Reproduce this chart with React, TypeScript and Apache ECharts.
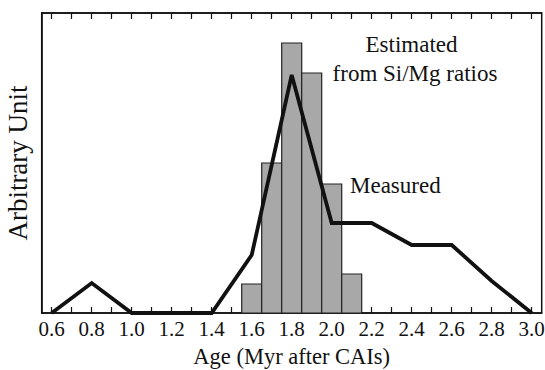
import React, { useEffect, useRef } from "react";
import * as echarts from "echarts";

// Histogram: "Estimated from Si/Mg ratios" (bin centres, heights in arbitrary units)
const binCenters = [1.6, 1.7, 1.8, 1.9, 2.0, 2.1];
const binHeights = [29, 150, 270, 240, 129, 39];
const binWidth = 0.1;

// Line: "Measured"
const measuredAges = [0.6, 0.8, 1.0, 1.2, 1.4, 1.6, 1.8, 2.0, 2.2, 2.4, 2.6, 2.8, 3.0];
const measuredValues = [0, 30, 0, 0, 0, 58, 238, 90, 90, 68, 68, 32, 0];

// Axis ticks
const tickValues = [
  0.6, 0.7, 0.8, 0.9, 1.0, 1.1, 1.2, 1.3, 1.4, 1.5, 1.6, 1.7, 1.8, 1.9, 2.0,
  2.1, 2.2, 2.3, 2.4, 2.5, 2.6, 2.7, 2.8, 2.9, 3.0,
];
const labelValues = [0.6, 0.8, 1.0, 1.2, 1.4, 1.6, 1.8, 2.0, 2.2, 2.4, 2.6, 2.8, 3.0];

const FONT = "Liberation Serif, serif";

export default function App() {
  const ref = useRef<HTMLDivElement>(null);

  useEffect(() => {
    if (!ref.current) return;
    const chart = echarts.init(ref.current, undefined, { renderer: "svg" });

    const xCommon = {
      type: "value" as const,
      min: 0.55,
      max: 3.05,
      splitLine: { show: false },
      axisLine: { show: true, lineStyle: { color: "#111", width: 1.5 } },
    };

    chart.setOption({
      animation: false,
      backgroundColor: "#ffffff",
      textStyle: { fontFamily: FONT },
      grid: {
        left: 41.7,
        right: 3.3,
        top: 13,
        bottom: 57,
        containLabel: false,
        outerBoundsMode: "none",
        show: true,
        borderColor: "#111",
        borderWidth: 1.5,
        backgroundColor: "transparent",
      },
      xAxis: [
        {
          ...xCommon,
          position: "bottom",
          name: "Age (Myr after CAIs)",
          nameLocation: "middle",
          nameGap: 32,
          nameMoveOverlap: false,
          nameTextStyle: { fontFamily: FONT, fontSize: 22.5, color: "#111" },
          axisTick: {
            show: true,
            inside: true,
            length: 6,
            customValues: tickValues,
            lineStyle: { color: "#111", width: 1.2 },
          },
          axisLabel: {
            show: true,
            customValues: labelValues,
            formatter: (v: number) => v.toFixed(1),
            fontFamily: FONT,
            fontSize: 21,
            color: "#111",
            margin: 5,
          },
        },
        {
          ...xCommon,
          position: "top",
          axisTick: {
            show: true,
            inside: true,
            length: 6,
            customValues: tickValues,
            lineStyle: { color: "#111", width: 1.2 },
          },
          axisLabel: { show: false },
        },
      ],
      yAxis: {
        type: "value",
        min: 0,
        max: 300,
        axisLine: { show: true, lineStyle: { color: "#111", width: 1.5 } },
        axisTick: { show: false },
        axisLabel: { show: false },
        splitLine: { show: false },
        name: "Arbitrary Unit",
        nameLocation: "middle",
        nameGap: 10,
        nameMoveOverlap: false,
        nameTextStyle: { fontFamily: FONT, fontSize: 27, color: "#111" },
      },
      series: [
        {
          type: "custom",
          xAxisIndex: 0,
          yAxisIndex: 0,
          data: binCenters.map((c, i) => [c, binHeights[i]]),
          renderItem: (_params: any, api: any) => {
            const x = api.value(0);
            const y = api.value(1);
            const p0 = api.coord([x - binWidth / 2, y]);
            const p1 = api.coord([x + binWidth / 2, 0]);
            return {
              type: "rect",
              shape: { x: p0[0], y: p0[1], width: p1[0] - p0[0], height: p1[1] - p0[1] },
              style: { fill: "#a8a8a8", stroke: "#222", lineWidth: 1.2 },
            };
          },
          z: 2,
        },
        {
          type: "line",
          xAxisIndex: 0,
          yAxisIndex: 0,
          data: measuredAges.map((a, i) => [a, measuredValues[i]]),
          symbol: "none",
          clip: false,
          lineStyle: { color: "#111", width: 3.8, join: "miter" },
          z: 3,
        },
      ],
      graphic: [
        {
          type: "text",
          x: 411.5,
          y: 44,
          style: {
            text: "Estimated",
            font: `23px ${FONT}`,
            fill: "#111",
            textAlign: "center",
            textVerticalAlign: "middle",
          },
        },
        {
          type: "text",
          x: 415,
          y: 73,
          style: {
            text: "from Si/Mg ratios",
            font: `23px ${FONT}`,
            fill: "#111",
            textAlign: "center",
            textVerticalAlign: "middle",
          },
        },
        {
          type: "text",
          x: 350,
          y: 185,
          style: {
            text: "Measured",
            font: `23px ${FONT}`,
            fill: "#111",
            textAlign: "left",
            textVerticalAlign: "middle",
          },
        },
      ],
    });

    return () => chart.dispose();
  }, []);

  return (
    <div
      ref={ref}
      style={{ position: "fixed", left: 0, top: 0, width: 545, height: 370, background: "#fff" }}
    />
  );
}
